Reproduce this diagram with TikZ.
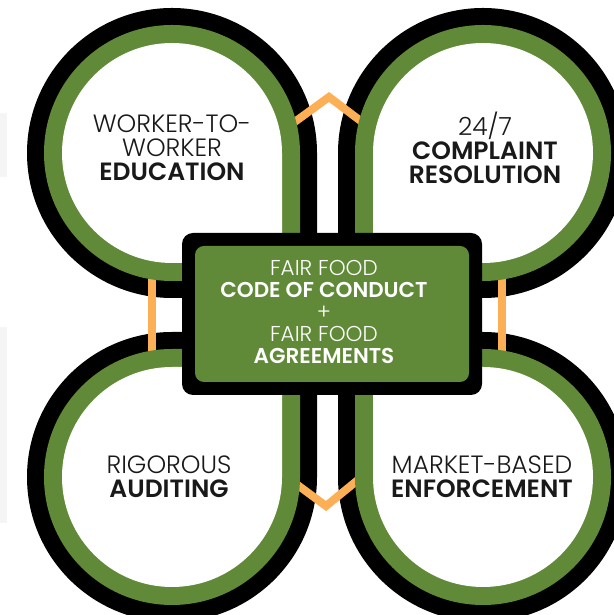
\documentclass[tikz,border=0pt]{standalone}
\usepackage{fontspec}
\setmainfont{Poppins Light}[BoldFont={Poppins SemiBold}]

\definecolor{ffgreen}{RGB}{97,138,56}
\definecolor{fforange}{RGB}{252,175,85}

\tikzset{
  petal/.style={insert path={(#1,-#1) -- (#1,0) arc[start angle=0,end angle=270,radius=#1] -- cycle}},
  petaltext/.style={align=center, text=black!90, font=\fontsize{25}{24}\selectfont},
  codetext/.style={align=center, text=white, font=\fontsize{21.5}{22}\selectfont},
  link/.style={fforange, line width=8pt},
}

% the four petals, one colour layer at a time
\newcommand{\petals}[2]{%
  \foreach \cx/\cy/\sx/\sy in {172/462/1/1, 483/462/-1/1, 172/138/1/-1, 483/138/-1/-1}
    \fill[#1, shift={(\cx,\cy)}, xscale=\sx, yscale=\sy] [petal=#2];}

\begin{document}
\begin{tikzpicture}[x=1pt,y=1pt]
    \useasboundingbox (0,0) rectangle (613,615);
    \fill[black!4] (0,438) rectangle (7,502); % faint shapes at the left edge
    \fill[black!4] (0,92) rectangle (7,288);
    \petals{black}{145} % outer rings
    \draw[link] (285,486) -- (329,518) -- (370,487); % top link
    \draw[link] (288,137) -- (326,109) -- (364,140); % bottom link
    \draw[link] (152,340) -- (152,260); % left link
    \draw[link] (502,340) -- (502,260); % right link
    \petals{ffgreen}{128} % green rings
    \petals{white}{110} % inside
    \node[fill=black, rounded corners=11pt, minimum width=300pt, minimum height=162pt] (frame) at (332,301) {};
    \node[fill=ffgreen, rounded corners=9pt, minimum width=274pt, minimum height=136pt] (box) at (frame.center) {};
    \node[codetext] (code) at (324,303.5) {FAIR FOOD\\\textbf{CODE OF CONDUCT}\\+\\FAIR FOOD\\\textbf{AGREEMENTS}};
    \node[petaltext] (education) at (172,467) {WORKER-TO-\\WORKER\\\textbf{EDUCATION}};
    \node[petaltext] (complaint) at (485,467) {24/7\\\textbf{COMPLAINT}\\\textbf{RESOLUTION}};
    \node[petaltext] (auditing) at (169,138) {RIGOROUS\\\textbf{AUDITING}};
    \node[petaltext] (enforcement) at (482,138) {MARKET-BASED\\\textbf{ENFORCEMENT}};
\end{tikzpicture}
\end{document}
